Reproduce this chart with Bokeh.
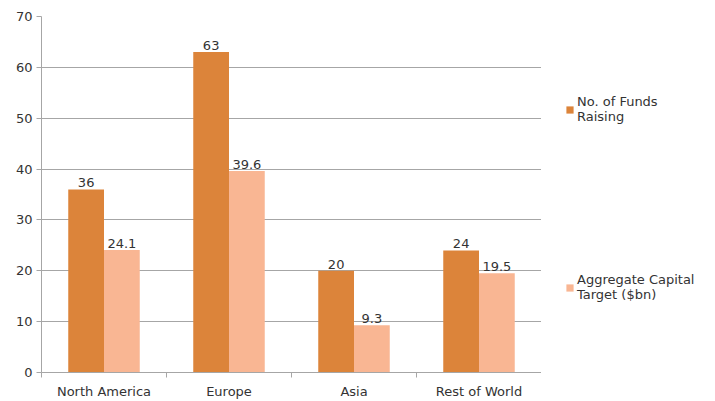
from bokeh.plotting import figure
from bokeh.layouts import row
from bokeh.models import ColumnDataSource, FixedTicker, Legend, LegendItem, Range1d
from bokeh.embed import file_html
from bokeh.resources import INLINE

categories = ["North America", "Europe", "Asia", "Rest of World"]
funds_raising = [36, 63, 20, 24]
capital_target = [24.1, 39.6, 9.3, 19.5]
series_names = ["No. of Funds\nRaising", "Aggregate Capital\nTarget ($bn)"]
y_ticks = [0, 10, 20, 30, 40, 50, 60, 70]

DARK = "#DC843A"
LIGHT = "#F9B693"
GRID = "#A6A6A6"
TXT = "#333333"
FONT = "DejaVu Sans"
FS = "13px"

n = len(categories)
centers = [i + 0.5 for i in range(n)]
bw = 0.286
x1 = [c - bw / 2 for c in centers]
x2 = [c + bw / 2 for c in centers]

src = ColumnDataSource(dict(x1=x1, x2=x2, a=funds_raising, b=capital_target,
                            la=[str(v) for v in funds_raising],
                            lb=[str(v) for v in capital_target]))

p = figure(width=541, height=401, output_backend="svg", toolbar_location=None,
           x_range=Range1d(0, n), y_range=Range1d(0, 70),
           min_border_left=41, min_border_right=0, min_border_top=16, min_border_bottom=25)
p.outline_line_color = None

r1 = p.vbar(x="x1", top="a", width=bw, source=src, fill_color=DARK, line_color=None)
r2 = p.vbar(x="x2", top="b", width=bw, source=src, fill_color=LIGHT, line_color=None)

p.text(x="x1", y="a", text="la", source=src, text_align="center", text_baseline="bottom",
       y_offset=-2, text_font_size=FS, text_color=TXT, text_font={"value": FONT})
p.text(x="x2", y="b", text="lb", source=src, text_align="center", text_baseline="bottom",
       y_offset=-2, text_font_size=FS, text_color=TXT, text_font={"value": FONT})

p.xaxis.ticker = FixedTicker(ticks=centers, minor_ticks=list(range(n + 1)))
p.xaxis.major_label_overrides = {c: cat for c, cat in zip(centers, categories)}
p.xaxis.major_tick_out = 0
p.xaxis.major_tick_in = 0
p.xaxis.minor_tick_out = 5
p.xaxis.minor_tick_in = 0
p.xaxis.minor_tick_line_color = GRID
p.xaxis.axis_line_color = GRID
p.xaxis.major_label_standoff = 6

p.yaxis.ticker = FixedTicker(ticks=y_ticks)
p.yaxis.major_tick_out = 5
p.yaxis.major_tick_in = 0
p.yaxis.major_tick_line_color = GRID
p.yaxis.minor_tick_line_color = None
p.yaxis.axis_line_color = GRID
p.yaxis.major_label_standoff = 4

for ax in (p.xaxis, p.yaxis):
    ax.major_label_text_font = FONT
    ax.major_label_text_font_size = FS
    ax.major_label_text_color = TXT

p.xgrid.grid_line_color = None
p.ygrid.grid_line_color = GRID

# legend panel
q = figure(width=174, height=401, output_backend="svg", toolbar_location=None,
           x_range=Range1d(0, 1), y_range=Range1d(0, 1),
           min_border=0)
q.axis.visible = False
q.grid.visible = False
q.outline_line_color = None
off = ColumnDataSource(dict(x=[-10], y=[-10]))
g1 = q.rect(x="x", y="y", width=0.1, height=0.1, source=off, fill_color=DARK, line_color=None)
g2 = q.rect(x="x", y="y", width=0.1, height=0.1, source=off, fill_color=LIGHT, line_color=None)

legend = Legend(items=[LegendItem(label=series_names[0], renderers=[g1]),
                       LegendItem(label=series_names[1], renderers=[g2])],
                location=(24, 70), spacing=148, glyph_width=9, glyph_height=9,
                label_text_font=FONT, label_text_font_size=FS, label_text_color=TXT,
                border_line_color=None, background_fill_alpha=0, padding=0, margin=0,
                label_standoff=3, label_height=30)
q.add_layout(legend, "center")

layout = row(p, q, spacing=0)
open("out.html", "w").write(file_html(layout, INLINE))
